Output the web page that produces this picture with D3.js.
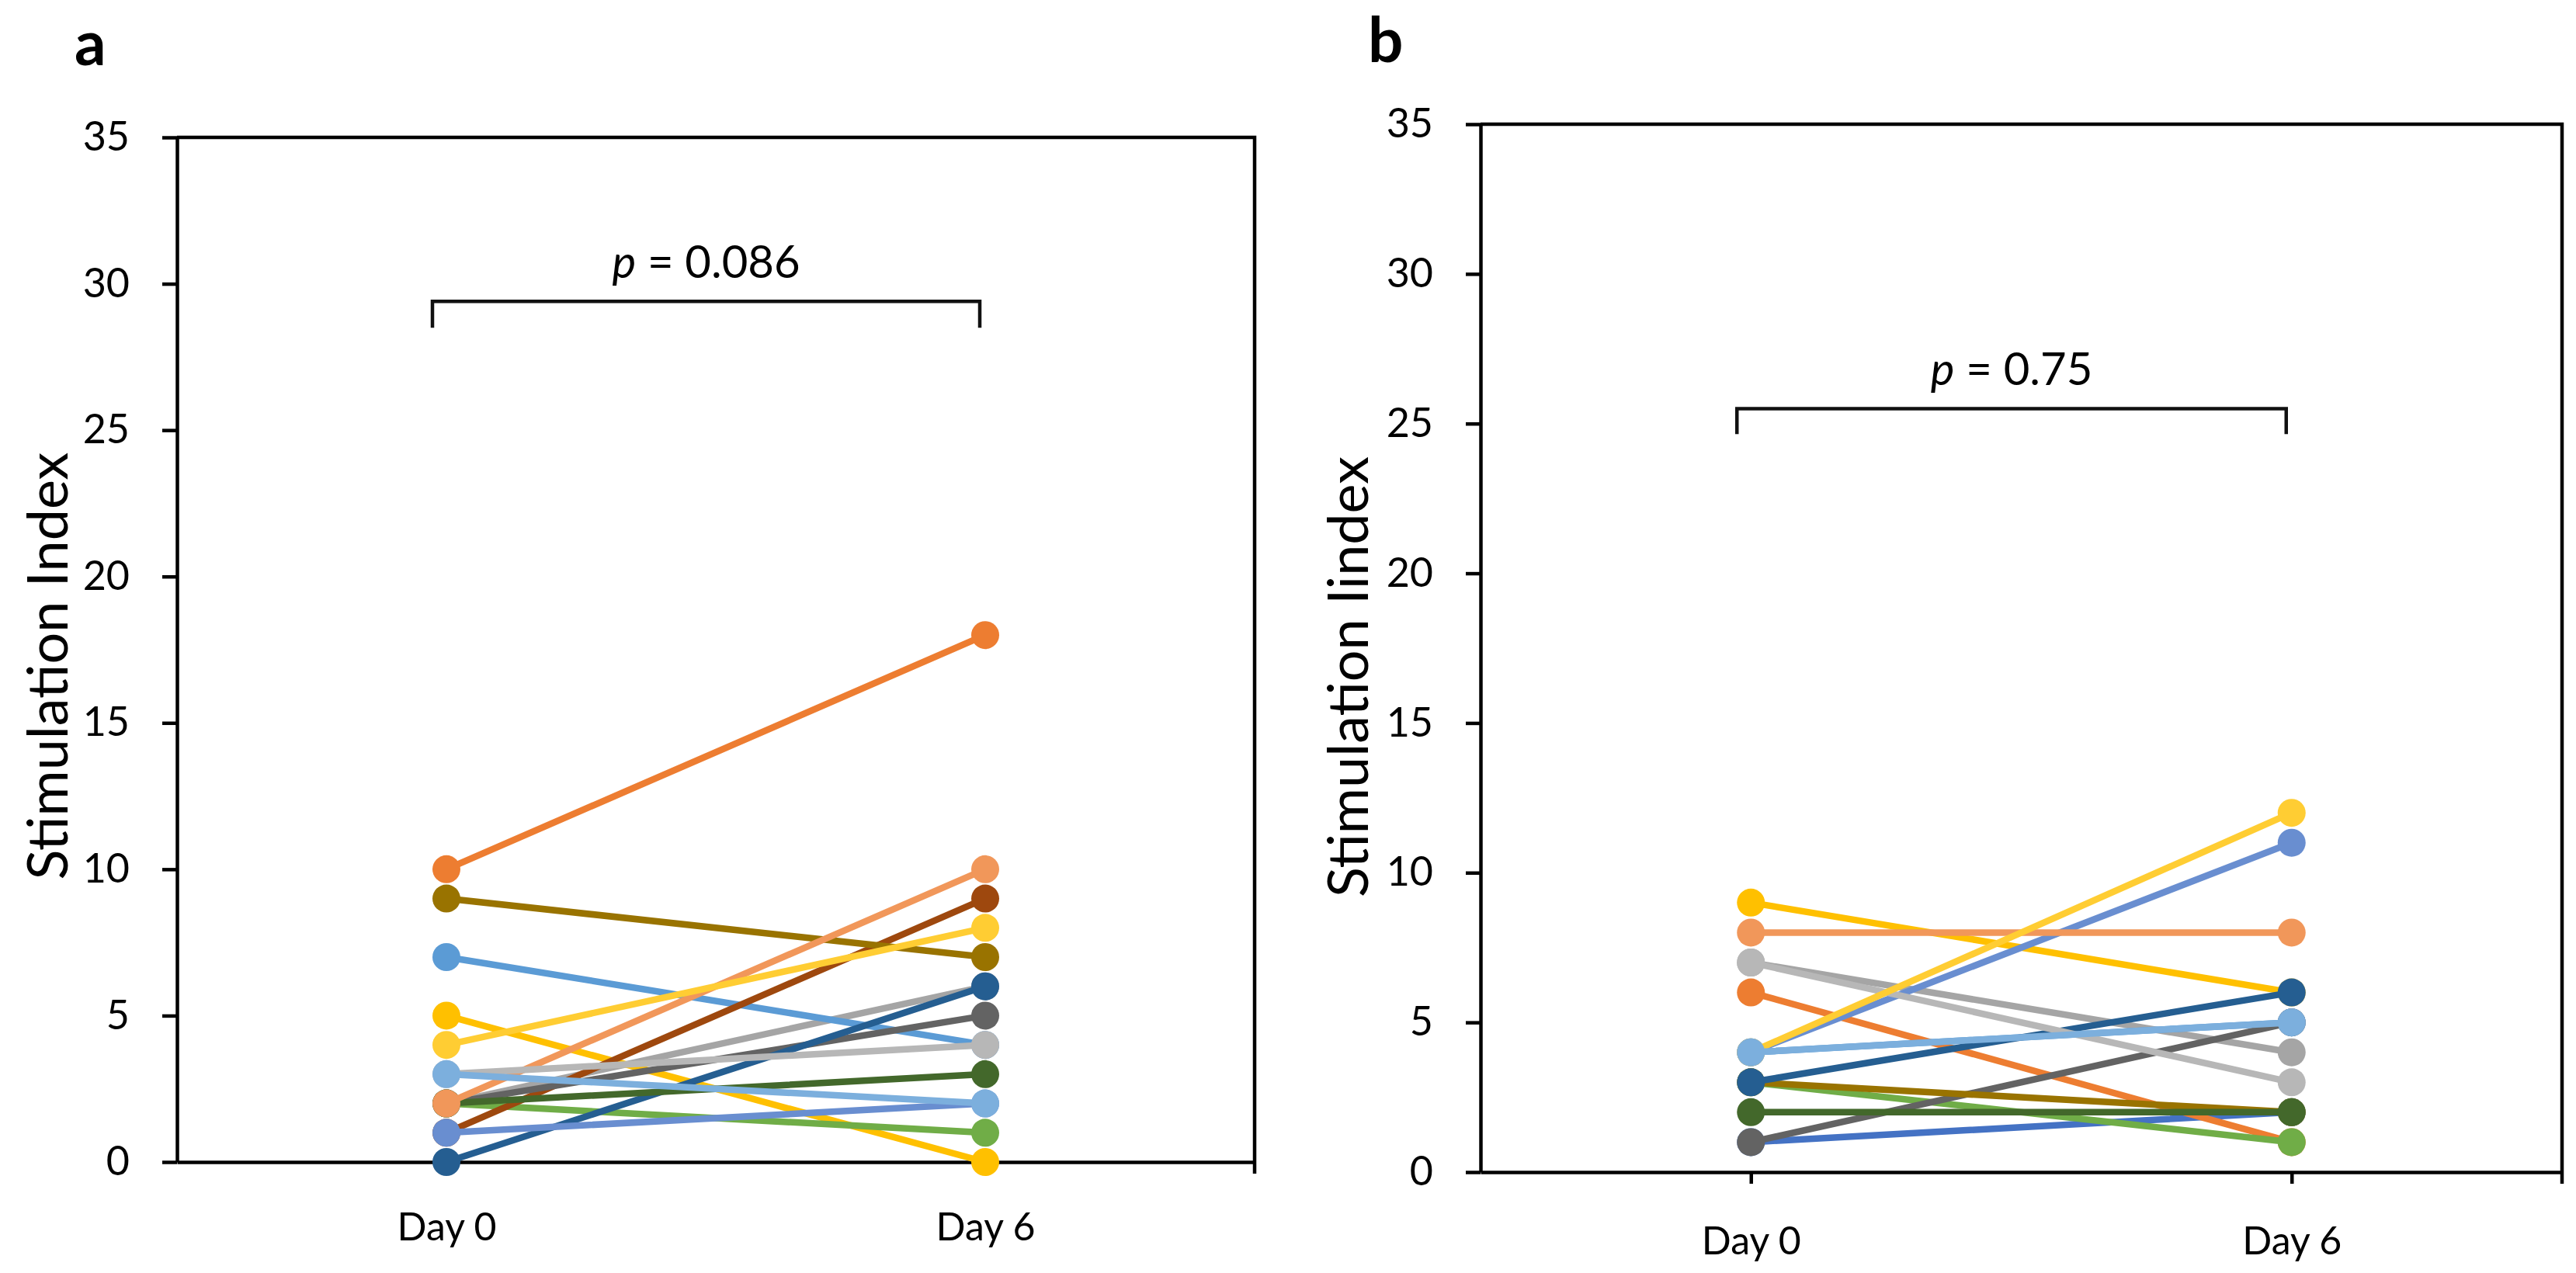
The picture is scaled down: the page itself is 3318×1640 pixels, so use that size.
<!DOCTYPE html>
<html>
<head>
<meta charset="utf-8">
<script src="https://cdn.jsdelivr.net/npm/d3@7"></script>
<style>
  html, body { margin: 0; padding: 0; background: #fff; }
  svg { display: block; }
  .tick text, .lbl { font-family: Lato, "Open Sans", sans-serif; fill: #000; }
</style>
</head>
<body>
<svg id="chart"></svg>
<script>
const W = 3318, H = 1640;

const days = ["Day 0", "Day 6"];
const yTicks = [0, 5, 10, 15, 20, 25, 30, 35];

// panel a: one colour per subject, Day 0 and Day 6 values
const colorsA = ["#ED7D31", "#A5A5A5", "#FFC000", "#5B9BD5", "#70AD47", "#9E480E", "#636363", "#997300",
                 "#255E91", "#43682B", "#698ED0", "#F1975A", "#B7B7B7", "#FFCD33", "#7CAFDD"];
const day0A = [10, 2, 5, 7, 2, 1, 2, 9, 0, 2, 1, 2, 3, 4, 3];
const day6A = [18, 6, 0, 4, 1, 9, 5, 7, 6, 3, 2, 10, 4, 8, 2];

// panel b
const colorsB = ["#4472C4", "#ED7D31", "#A5A5A5", "#FFC000", "#5B9BD5", "#70AD47", "#636363", "#997300",
                 "#255E91", "#43682B", "#698ED0", "#F1975A", "#B7B7B7", "#FFCD33", "#7CAFDD"];
const day0B = [1, 6, 7, 9, 4, 3, 1, 3, 3, 2, 4, 8, 7, 4, 4];
const day6B = [2, 1, 4, 6, 5, 1, 5, 2, 6, 2, 11, 8, 3, 12, 5];

const pA = "0.086", pB = "0.75";

const svg = d3.select("#chart").attr("width", W).attr("height", H);

function drawPanel(cfg) {
    const g = svg.append("g");

    const x = d3.scalePoint().domain(days).range([cfg.left, cfg.right]).padding(0.5);
    const y = d3.scaleLinear().domain([0, 35]).range([cfg.bottom, cfg.top]);

    // frame (top and right), right edge runs a little below the axis like the original
    g.append("path")
        .attr("d", `M${cfg.left},${cfg.top}H${cfg.right}V${cfg.bottom + 15}`)
        .attr("fill", "none")
        .attr("stroke", "#000")
        .attr("stroke-width", 4.5);

    const yAxis = g.append("g")
        .attr("transform", `translate(${cfg.left},0)`)
        .call(d3.axisLeft(y).tickValues(yTicks).tickSize(19).tickSizeOuter(0).tickPadding(42));
    yAxis.select(".domain").attr("stroke-width", 4.5);
    yAxis.selectAll(".tick line").attr("stroke-width", 4.5);
    yAxis.selectAll(".tick text").attr("font-size", 52);

    const xAxis = g.append("g")
        .attr("transform", `translate(0,${cfg.bottom})`)
        .call(d3.axisBottom(x).tickSize(15).tickSizeOuter(0).tickPadding(0));
    xAxis.select(".domain").attr("stroke-width", 4.5);
    xAxis.selectAll(".tick line").attr("stroke-width", 4.5);
    xAxis.selectAll(".tick text")
        .attr("font-size", 50)
        .attr("dy", null)
        .attr("y", cfg.dayBase - cfg.bottom);

    // y axis title
    g.append("text")
        .attr("class", "lbl")
        .attr("transform", `translate(${cfg.titleX},${cfg.titleY}) rotate(-90)`)
        .attr("text-anchor", "middle")
        .attr("font-size", 72)
        .text(cfg.title);

    // panel letter
    g.append("text")
        .attr("class", "lbl")
        .attr("x", cfg.letterX)
        .attr("y", cfg.letterY)
        .attr("font-size", 80)
        .attr("font-weight", "bold")
        .text(cfg.letter);

    // significance bracket
    const bx0 = x(days[0]) - 18, bx1 = x(days[1]) - 7;
    g.append("path")
        .attr("d", `M${bx0},${y(cfg.dropAt)}V${y(cfg.bracketAt)}H${bx1}V${y(cfg.dropAt)}`)
        .attr("fill", "none")
        .attr("stroke", "#111")
        .attr("stroke-width", 4.5);

    const pt = g.append("text")
        .attr("class", "lbl")
        .attr("x", (bx0 + bx1) / 2)
        .attr("y", y(cfg.bracketAt) - 30)
        .attr("text-anchor", "middle")
        .attr("font-size", 58);
    pt.append("tspan").attr("font-style", "italic").text("p");
    pt.append("tspan").text(" = " + cfg.p);

    // one line + two markers per subject, drawn in series order
    cfg.colors.forEach((c, i) => {
        const pts = [[days[0], cfg.d0[i]], [days[1], cfg.d6[i]]];
        const s = g.append("g");
        s.append("path")
            .attr("d", d3.line().x(d => x(d[0])).y(d => y(d[1]))(pts))
            .attr("fill", "none")
            .attr("stroke", c)
            .attr("stroke-width", 8.5)
            .attr("stroke-linecap", "round");
        s.selectAll("circle")
            .data(pts)
            .enter()
            .append("circle")
            .attr("cx", d => x(d[0]))
            .attr("cy", d => y(d[1]))
            .attr("r", 18)
            .attr("fill", c);
    });
}

drawPanel({
    left: 228, right: 1616, top: 177, bottom: 1497,
    colors: colorsA, d0: day0A, d6: day6A, p: pA,
    bracketAt: 29.4, dropAt: 28.5,
    title: "Stimulation Index", titleX: 87, titleY: 858,
    letter: "a", letterX: 96, letterY: 84,
    dayBase: 1598
});

drawPanel({
    left: 1907, right: 3300, top: 160, bottom: 1510,
    colors: colorsB, d0: day0B, d6: day6B, p: pB,
    bracketAt: 25.5, dropAt: 24.65,
    title: "Stimulation Iindex", titleX: 1762, titleY: 872,
    letter: "b", letterX: 1762, letterY: 80,
    dayBase: 1616
});
</script>
</body>
</html>
